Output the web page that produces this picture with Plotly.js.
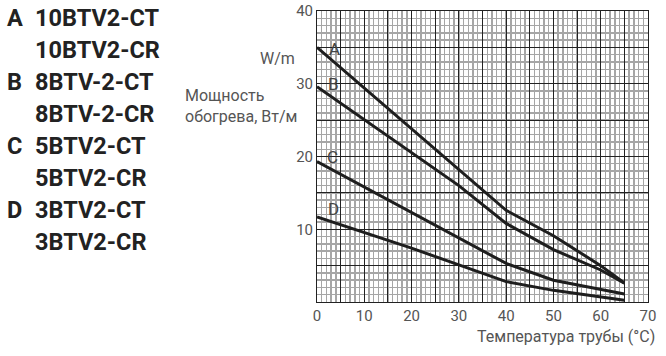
<!DOCTYPE html>
<html>
<head>
<meta charset="utf-8">
<script src="https://cdn.plot.ly/plotly-3.0.1.min.js"></script>
<style>
html,body{margin:0;padding:0;background:#fff;}
#chart{width:666px;height:356px;}
</style>
</head>
<body>
<div id="chart"></div>
<script>
// ---- data ----
const seriesNames = ['A', 'B', 'C', 'D'];
const xA = [0, 40, 50, 60, 65];
const yA = [35.0, 12.6, 9.1, 5.0, 2.6];
const xB = [0, 30, 40, 50, 60, 65];
const yB = [29.6, 16.0, 10.8, 7.2, 4.4, 2.6];
const xC = [0, 10, 20, 30, 40, 50, 60, 65];
const yC = [19.3, 15.8, 12.3, 8.8, 5.3, 3.0, 1.8, 1.1];
const xD = [0, 10, 20, 30, 40, 50, 60, 65];
const yD = [11.7, 9.6, 7.4, 5.1, 2.8, 1.6, 0.75, 0.25];

const legendLetters = ['A', '', 'B', '', 'C', '', 'D', ''];
const legendModels = ['10BTV2-CT', '10BTV2-CR', '8BTV-2-CT', '8BTV-2-CR', '5BTV2-CT', '5BTV2-CR', '3BTV2-CT', '3BTV2-CR'];

const xTickVals = [0, 5, 10, 15, 20, 25, 30, 35, 40, 45, 50, 55, 60, 65, 70];
const xTickText = ['0', '', '10', '', '20', '', '30', '', '40', '', '50', '', '60', '', '70'];
const yTickVals = [0, 5, 10, 15, 20, 25, 30, 35, 40];
const yTickText = ['', '', '10', '', '20', '', '30', '', '40'];

const yAxisTitle1 = 'W/m';
const yAxisTitle2 = 'Мощность<br>обогрева, Вт/м';
const xAxisTitle = 'Температура трубы (°C)';

// ---- layout helpers ----
const W = 666, H = 356;
const M = {l: 317, r: 18, t: 11, b: 54};
const pw = W - M.l - M.r, ph = H - M.t - M.b;
const px = (x) => (x - M.l) / pw;
const py = (y) => (H - M.b - y) / ph;

const xs = [xA, xB, xC, xD];
const ys = [yA, yB, yC, yD];
const traces = seriesNames.map((n, i) => ({
  x: xs[i], y: ys[i], name: n, type: 'scatter', mode: 'lines',
  line: {color: '#1e1e1e', width: 3}, hoverinfo: 'skip', showlegend: false
}));

const annotations = [];
// curve letters near start of each line
const letterPos = [[334.3, 49], [333.3, 84.3], [332.7, 157.3], [333.3, 209.3]];
seriesNames.forEach((n, i) => {
  annotations.push({
    xref: 'paper', yref: 'paper', x: px(letterPos[i][0]), y: py(letterPos[i][1]),
    xanchor: 'center', yanchor: 'middle', text: n, showarrow: false,
    font: {family: 'Roboto, sans-serif', size: 17, color: '#444'}
  });
});
// left legend block
legendModels.forEach((m, i) => {
  const yc = 18.3 + i * 31.9;
  if (legendLetters[i]) {
    annotations.push({
      xref: 'paper', yref: 'paper', x: px(5), y: py(yc), xanchor: 'left', yanchor: 'middle',
      text: '<b>' + legendLetters[i] + '</b>', showarrow: false,
      font: {family: 'Roboto, sans-serif', size: 23.5, color: '#222'}
    });
  }
  annotations.push({
    xref: 'paper', yref: 'paper', x: px(33), y: py(yc), xanchor: 'left', yanchor: 'middle',
    text: '<b>' + m + '</b>', showarrow: false,
    font: {family: 'Roboto, sans-serif', size: 23.5, color: '#222'}
  });
});
// axis titles
annotations.push({
  xref: 'paper', yref: 'paper', x: px(297), y: py(59), xanchor: 'right', yanchor: 'middle',
  text: yAxisTitle1, showarrow: false, font: {family: 'Roboto, sans-serif', size: 16, color: '#555'}
});
annotations.push({
  xref: 'paper', yref: 'paper', x: px(183), y: py(106), xanchor: 'left', yanchor: 'middle', align: 'left',
  text: yAxisTitle2, showarrow: false, font: {family: 'Roboto, sans-serif', size: 16, color: '#555'}
});
annotations.push({
  xref: 'paper', yref: 'paper', x: px(657), y: py(336), xanchor: 'right', yanchor: 'middle',
  text: xAxisTitle, showarrow: false, font: {family: 'Roboto, sans-serif', size: 16, color: '#555'}
});

const axisCommon = {
  showline: true, mirror: true, linecolor: '#222', linewidth: 1,
  showgrid: true, gridcolor: '#222', gridwidth: 1, zeroline: false,
  ticks: '', tickfont: {family: 'Roboto, sans-serif', size: 15, color: '#555'},
  fixedrange: true
};

const layout = {
  width: W, height: H, margin: M,
  paper_bgcolor: '#fff', plot_bgcolor: '#fff',
  xaxis: Object.assign({}, axisCommon, {
    range: [0, 70], tickmode: 'array', tickvals: xTickVals, ticktext: xTickText,
    minor: {tickmode: 'linear', tick0: 0, dtick: 1, showgrid: true, gridcolor: '#a6a6a6', gridwidth: 1.4, ticks: ''}
  }),
  yaxis: Object.assign({}, axisCommon, {
    range: [0, 40], tickmode: 'array', tickvals: yTickVals, ticktext: yTickText,
    minor: {tickmode: 'linear', tick0: 0, dtick: 1, showgrid: true, gridcolor: '#a6a6a6', gridwidth: 1.4, ticks: ''}
  }),
  annotations: annotations,
  showlegend: false
};

Plotly.newPlot('chart', traces, layout, {staticPlot: true, displayModeBar: false});
</script>
</body>
</html>
